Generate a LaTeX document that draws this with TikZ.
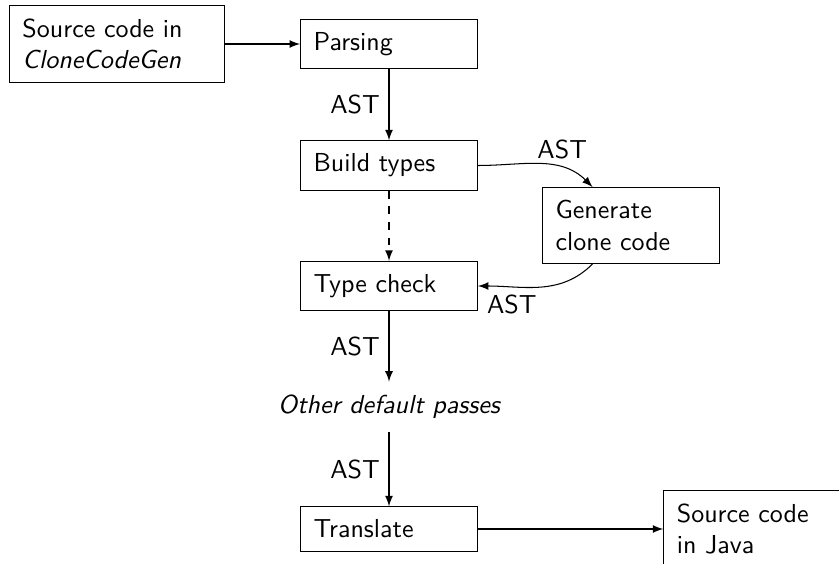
\documentclass[tikz,border=0pt]{standalone}
\usetikzlibrary{arrows}
\begin{document}
\begin{tikzpicture}[x=0.3846pt, y=0.3846pt, font=\sffamily,
  box/.style={draw, rectangle, inner sep=5pt, text width=58pt, align=left},
  plain/.style={inner sep=5pt},
  lbl/.style={inner sep=3.33pt},
  flow/.style={-latex}]
\useasboundingbox (0,0) rectangle (839,-564);

% passes of the compiler pipeline
\node[box, text width=72.7pt] (src) at (117,-44) {Source code in\\\textit{CloneCodeGen}};
\node[box] (parse) at (389,-44) {Parsing};
\node[box] (build) at (389,-165.5) {Build types};
\node[box] (gen) at (631,-225.5) {Generate\\clone code};
\node[box] (typec) at (389,-286) {Type check};
\node[plain] (other) at (389,-407) {\itshape Other default passes};
\node[box] (trans) at (389,-529) {Translate};
\node[box, text width=64pt] (java) at (760,-529) {Source code\\in Java};

% data flow between passes
\draw[flow] (src) -- (parse);
\draw[flow] (parse) -- node[lbl, left] {AST} (build);
\draw[flow, dashed] (build) -- (typec);
\draw[flow] (build.east) to[out=0, in=135] node[lbl, above, pos=0.7] {AST} (gen.135);
\draw[flow] (gen.-135) to[out=-135, in=0] node[lbl, below right, pos=1] {AST} (typec.east);
\draw[flow] (typec) -- node[lbl, left] {AST} (other);
\draw[flow] (other) -- node[lbl, left] {AST} (trans);
\draw[flow] (trans) -- (java);
\end{tikzpicture}
\end{document}
